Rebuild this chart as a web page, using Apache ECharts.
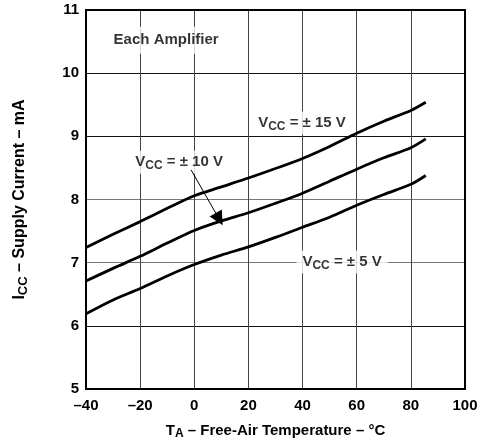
<!DOCTYPE html>
<html><head><meta charset="utf-8">
<script src="https://cdn.jsdelivr.net/npm/echarts@6/dist/echarts.min.js"></script>
<style>html,body{margin:0;padding:0;background:#fff}#c{width:481px;height:440px}</style>
</head><body><div id="c"></div>
<script>
const temps = [-40,-30,-20,-10,0,10,20,30,40,50,60,70,80,85.5];
const vcc15 = [7.24,7.45,7.65,7.86,8.06,8.20,8.34,8.49,8.65,8.84,9.05,9.24,9.41,9.54];
const vcc10 = [6.71,6.91,7.10,7.31,7.51,7.66,7.79,7.94,8.10,8.29,8.48,8.66,8.82,8.96];
const vcc5  = [6.19,6.41,6.59,6.79,6.97,7.12,7.25,7.40,7.56,7.72,7.91,8.08,8.24,8.38];
const xTicks = [-40,-20,0,20,40,60,80,100];
const yTicks = [5,6,7,8,9,10,11];
const labelNames = ['15','10','5'];
const labelPos = [[39.8,9.21],[-5.6,8.59],[54.6,7.01]];
const noteText = 'Each Amplifier';
const notePos = [-10.4,10.52];
const arrow = [[-1.2,8.47],[9.2,7.69]];

const FONT = 'Liberation Sans, Arial, sans-serif';
const zip = (xs, ys) => xs.map((x,i)=>[x,ys[i]]);
const richV = {
  v:{fontSize:15,fontWeight:'bold',fontFamily:FONT,color:'#000'},
  s:{fontSize:12,fontWeight:'bold',fontFamily:FONT,color:'#000',padding:[7,0,0,0]},
  t:{fontSize:15,fontWeight:'bold',fontFamily:FONT,color:'#000'}
};
const richY = {
  v:{fontSize:16,fontWeight:'bold',fontFamily:FONT,color:'#000'},
  s:{fontSize:13,fontWeight:'bold',fontFamily:FONT,color:'#000',padding:[7,0,0,0]},
  t:{fontSize:16,fontWeight:'bold',fontFamily:FONT,color:'#000'}
};
function curve(d){
  return {type:'line',data:d,smooth:0.3,showSymbol:false,symbol:'none',
    lineStyle:{color:'#000',width:2.8},z:5,silent:true};
}
const chart = echarts.init(document.getElementById('c'),null,{renderer:'canvas'});
chart.setOption({
  animation:false,
  backgroundColor:'#fff',
  grid:{left:86,right:16,top:10,bottom:51,containLabel:false,outerBoundsMode:'none',show:true,borderColor:'#000',borderWidth:2,backgroundColor:'transparent',z:3},
  xAxis:{type:'value',min:-40,max:100,interval:20,
    axisLine:{show:false},axisTick:{show:false},
    splitLine:{show:true,lineStyle:{color:'#444',width:1}},
    axisLabel:{margin:9,fontSize:15,fontWeight:'bold',fontFamily:FONT,color:'#000',
      formatter:v=>xTicks.includes(v)?String(v).replace('-','\u2013'):''},
    name:'{v|T}{s|A}{t| \u2013 Free-Air Temperature \u2013 \u00B0C}',nameLocation:'middle',nameGap:32,
    nameTextStyle:{rich:richV}},
  yAxis:{type:'value',min:5,max:11,interval:1,
    axisLine:{show:false},axisTick:{show:false},
    splitLine:{show:true,lineStyle:{color:['#111','#111','#777','#777','#111','#111','#111'],width:1}},
    axisLabel:{margin:7,fontSize:15,fontWeight:'bold',fontFamily:FONT,color:'#000',
      formatter:v=>yTicks.includes(v)?String(v):''},
    name:'{v|I}{s|CC}{t| \u2013 Supply Current \u2013 mA}',nameLocation:'middle',nameGap:56,
    nameTextStyle:{rich:richY}},
  series:[
    curve(zip(temps,vcc15)),
    curve(zip(temps,vcc10)),
    curve(zip(temps,vcc5)),
    {type:'lines',coordinateSystem:'cartesian2d',z:6,silent:true,
      symbol:['none','triangle'],symbolSize:[1,14],
      lineStyle:{color:'#000',width:1,opacity:1},
      data:[{coords:arrow}]},
    {type:'scatter',symbolSize:0,z:4,silent:true,
      data:labelPos.map((p,i)=>({value:p,name:labelNames[i]})),
      label:{show:true,position:'inside',backgroundColor:'#fff',padding:[2,6,2,6],
        formatter:p=>'{v|V}{s|CC}{t| = \u00B1 '+p.name+' V}',rich:richV}},
    {type:'scatter',symbolSize:0,z:4,silent:true,
      data:[{value:notePos,name:noteText}],
      label:{show:true,position:'inside',backgroundColor:'#fff',padding:[6,8,6,8],
        formatter:p=>p.name,fontSize:15,fontWeight:'bold',fontFamily:FONT,color:'#000'}}
  ]
});
</script></body></html>
